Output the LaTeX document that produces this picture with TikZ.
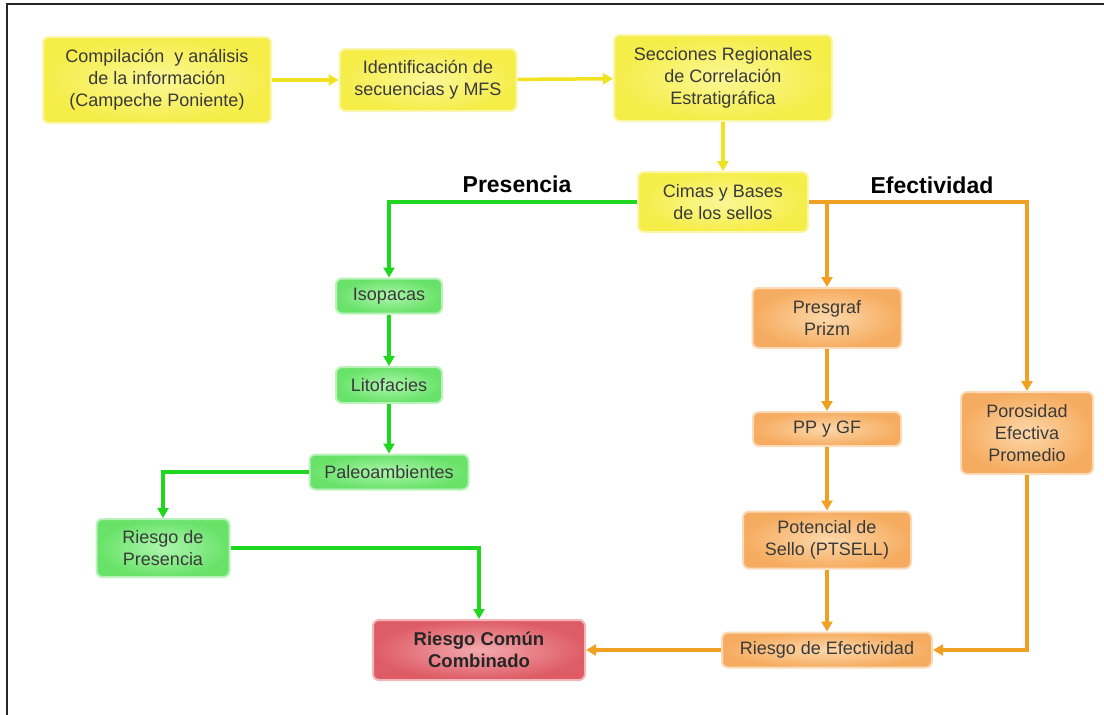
\documentclass[tikz,border=0pt]{standalone}
\usepackage{fontspec}
\setmainfont{Liberation Sans}
\usepackage{tikz}
\usetikzlibrary{arrows.meta,positioning,calc}

\definecolor{yellowline}{RGB}{240,226,30}
\definecolor{yellowedge}{RGB}{245,237,72}
\definecolor{yellowcore}{RGB}{251,247,150}
\definecolor{greenline}{RGB}{30,215,30}
\definecolor{greenedge}{RGB}{104,226,104}
\definecolor{greencore}{RGB}{172,246,172}
\definecolor{orangeline}{RGB}{240,160,35}
\definecolor{orangeedge}{RGB}{246,172,96}
\definecolor{orangecore}{RGB}{252,216,170}
\definecolor{rededge}{RGB}{222,92,102}
\definecolor{redcore}{RGB}{243,170,174}
\definecolor{boxtext}{RGB}{58,58,58}

\begin{document}
\begin{tikzpicture}[x=1pt,y=-1pt,
    box/.style={rounded corners=6pt,align=center,text=boxtext,inner sep=2pt,line width=2pt,
      font=\fontsize{18}{22}\selectfont},
    ybox/.style={box,inner color=yellowcore,outer color=yellowedge,draw=yellowedge!45},
    gbox/.style={box,inner color=greencore,outer color=greenedge,draw=greenedge!45},
    obox/.style={box,inner color=orangecore,outer color=orangeedge,draw=orangeedge!45},
    rbox/.style={box,inner color=redcore,outer color=rededge,draw=rededge!45,text=black!85,
      font=\bfseries\fontsize{18.5}{22}\selectfont},
    label/.style={font=\bfseries\fontsize{23}{27}\selectfont},
    flow/.style={line width=3.5pt,-{Triangle[length=10pt,width=11pt]}},
  ]
    \useasboundingbox (0,0) rectangle (1104,715);
    \draw[line width=2.5pt,black!85] (7,715) -- (7,4) -- (1104,4);

    \node[ybox,minimum width=228pt,minimum height=86pt] (comp) at (157,80)
      {Compilación\ \ y análisis\\de la información\\(Campeche Poniente)};
    \node[ybox,minimum width=177pt,minimum height=62pt] (ident) at (428,80)
      {Identificación de\\secuencias y MFS};
    \node[ybox,minimum width=218pt,minimum height=86pt] (secc) at (723,78)
      {Secciones Regionales\\de Correlación\\Estratigráfica};
    \node[ybox,minimum width=170pt,minimum height=60pt] (cimas) at (723,202)
      {Cimas y Bases\\de los sellos};

    \node[label] (presencia) at (517,184) {Presencia};
    \node[label] (efectividad) at (932,185) {Efectividad};

    \node[gbox,minimum width=106pt,minimum height=35pt] (isopacas) at (389,296) {Isopacas};
    \node[gbox,minimum width=106pt,minimum height=36pt] (litofacies) at (389,385) {Litofacies};
    \node[gbox,minimum width=159pt,minimum height=35pt] (paleo) at (389,472) {Paleoambientes};
    \node[gbox,minimum width=133pt,minimum height=58pt] (rpres) at (163,548) {Riesgo de\\Presencia};
    \node[rbox,minimum width=212pt,minimum height=60pt] (rcomun) at (479,650) {Riesgo Común\\Combinado};

    \node[obox,minimum width=149pt,minimum height=60pt] (presgraf) at (827,318) {Presgraf\\Prizm};
    \node[obox,minimum width=148pt,minimum height=34pt] (ppgf) at (827,429) {PP y GF};
    \node[obox,minimum width=168pt,minimum height=57pt] (potencial) at (827,540) {Potencial de\\Sello (PTSELL)};
    \node[obox,minimum width=210pt,minimum height=35pt] (refect) at (827,650) {Riesgo de Efectividad};
    \node[obox,minimum width=132pt,minimum height=82pt] (porosidad) at (1027,433) {Porosidad\\Efectiva\\Promedio};

    \draw[flow,yellowline] (comp) -- (ident);
    \draw[flow,yellowline] (ident) -- (secc);
    \draw[flow,yellowline] (secc) -- (cimas);

    \draw[flow,greenline] (cimas.west) -| (isopacas.north);
    \draw[flow,greenline] (isopacas) -- (litofacies);
    \draw[flow,greenline] (litofacies) -- (paleo);
    \draw[flow,greenline] (paleo.west) -| (rpres.north);
    \draw[flow,greenline] (rpres.east) -| (rcomun.north);

    \draw[flow,orangeline] (cimas.east) -| (porosidad.north);
    \draw[flow,orangeline] (cimas.east -| presgraf.north) -- (presgraf.north);
    \draw[flow,orangeline] (presgraf) -- (ppgf);
    \draw[flow,orangeline] (ppgf) -- (potencial);
    \draw[flow,orangeline] (potencial) -- (refect);
    \draw[flow,orangeline] (porosidad.south) |- (refect.east);
    \draw[flow,orangeline] (refect) -- (rcomun);
\end{tikzpicture}
\end{document}
